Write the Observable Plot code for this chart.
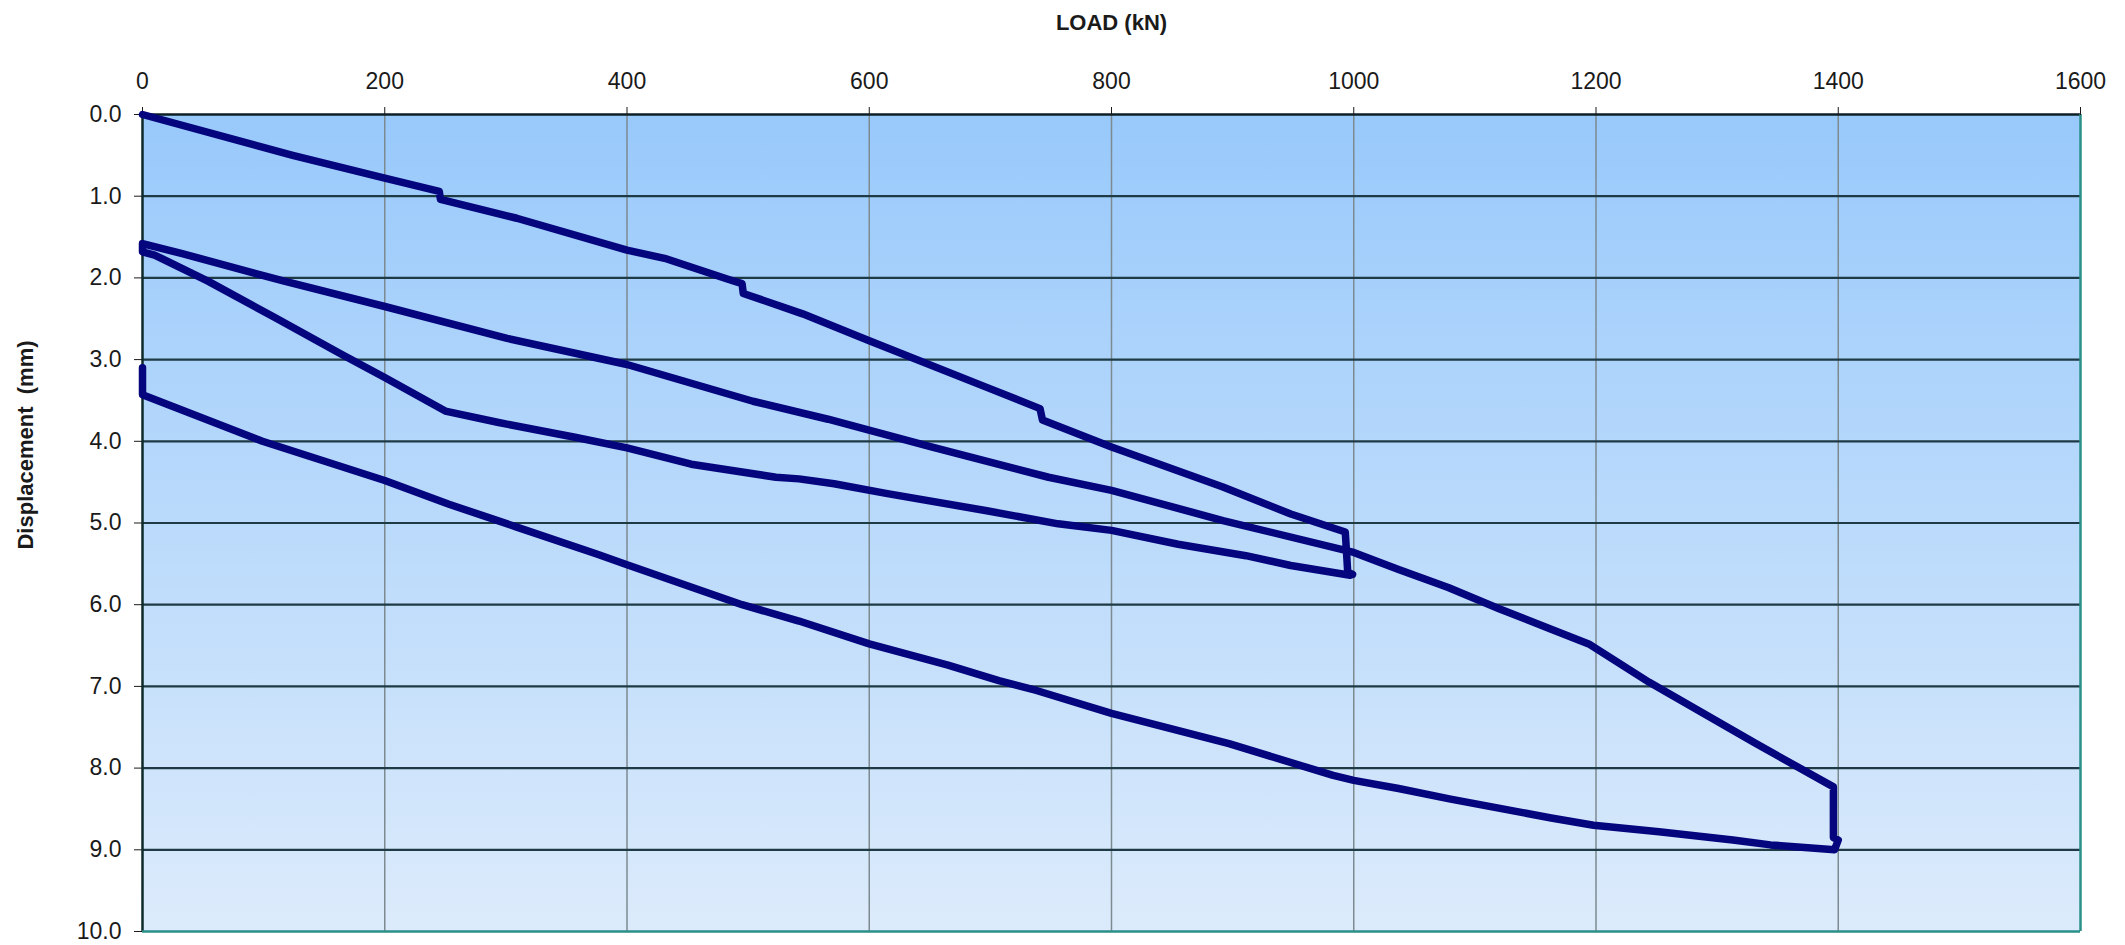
<!DOCTYPE html>
<html>
<head>
<meta charset="utf-8">
<script src="https://cdn.jsdelivr.net/npm/d3@7"></script>
<script src="https://cdn.jsdelivr.net/npm/@observablehq/plot@0.6"></script>
<style>
  html, body { margin: 0; padding: 0; background: #ffffff; }
  #chart svg { display: block; }
</style>
</head>
<body>
<div id="chart"></div>
<script>
// Pile load test: load / unload cycles to 1000 kN and 1400 kN
const load = [
  0, 124, 200, 245, 246, 309, 400, 431, 484, 495, 496, 545, 600, 697, 741, 743, 800, 892, 948, 993,
  994, 995, 999,
  997, 948, 911, 855, 800, 756, 697, 615, 571, 542, 523, 453, 400, 357, 294, 250, 200, 165, 110, 54, 10, 0,
  0, 32, 117, 200, 301, 400, 504, 566, 652, 748, 800, 892, 1000, 1037, 1078, 1120, 1163, 1194, 1244, 1332, 1396,
  1396, 1400, 1397,
  1344, 1313, 1252, 1198, 1163, 1080, 1037, 1000, 983, 897, 800, 738, 707, 665, 600, 542, 495, 400, 375, 309, 253, 200, 99, 0,
  0
];
const displacement = [
  0.00, 0.50, 0.78, 0.94, 1.04, 1.27, 1.66, 1.76, 2.02, 2.07, 2.19, 2.44, 2.77, 3.34, 3.60, 3.74, 4.07, 4.56, 4.89, 5.11,
  5.35, 5.60, 5.63,
  5.64, 5.52, 5.40, 5.26, 5.09, 5.01, 4.85, 4.64, 4.52, 4.46, 4.44, 4.28, 4.08, 3.95, 3.77, 3.63, 3.22, 2.94, 2.49, 2.04, 1.72, 1.68,
  1.58, 1.70, 2.04, 2.35, 2.74, 3.06, 3.51, 3.73, 4.07, 4.44, 4.60, 4.97, 5.36, 5.57, 5.79, 6.05, 6.30, 6.48, 6.95, 7.70, 8.23,
  8.85, 8.88, 9.00,
  8.94, 8.88, 8.78, 8.70, 8.61, 8.38, 8.25, 8.15, 8.09, 7.70, 7.33, 7.05, 6.93, 6.74, 6.48, 6.20, 6.00, 5.51, 5.38, 5.05, 4.77, 4.48, 4.00, 3.43,
  3.10
];
const loadTicks = [0, 200, 400, 600, 800, 1000, 1200, 1400, 1600];
const dispTicks = [0, 1, 2, 3, 4, 5, 6, 7, 8, 9, 10];

const xTitle = "LOAD (kN)";
const yTitle = "Displacement  (mm)";

// plot-area background: vertical blue gradient
function gradientBackground(index, scales, values, dims) {
  const g = d3.create("svg:g");
  const grad = g.append("defs").append("linearGradient")
    .attr("id", "plot-bg").attr("x1", 0).attr("y1", 0).attr("x2", 0).attr("y2", 1);
  grad.append("stop").attr("offset", "0%").attr("stop-color", "#98c9fb");
  grad.append("stop").attr("offset", "100%").attr("stop-color", "#dcebfb");
  g.append("rect")
    .attr("x", dims.marginLeft)
    .attr("y", dims.marginTop)
    .attr("width", dims.width - dims.marginLeft - dims.marginRight)
    .attr("height", dims.height - dims.marginTop - dims.marginBottom)
    .attr("fill", "url(#plot-bg)");
  return g.node();
}

const chart = Plot.plot({
  width: 2125,
  height: 945,
  marginTop: 114,
  marginRight: 45,
  marginBottom: 14,
  marginLeft: 142,
  style: { fontFamily: "'Liberation Sans', Arial, sans-serif", background: "#ffffff", color: "#1a1a1a" },
  x: { domain: [0, 1600] },
  y: { domain: [0, 10], reverse: true },
  marks: [
    gradientBackground,
    // vertical grid (grey) and horizontal grid (dark)
    Plot.ruleX(loadTicks.slice(1, -1), { stroke: "#7d8a90", strokeWidth: 1.5 }),
    Plot.ruleY(dispTicks.slice(1, -1), { stroke: "#1e3a45", strokeWidth: 2.2 }),
    // plot frame
    Plot.ruleY([0], { stroke: "#0d1f24", strokeWidth: 2.5 }),
    Plot.ruleX([0], { stroke: "#0d2a2a", strokeWidth: 2.5 }),
    Plot.ruleY([10], { stroke: "#2a8f88", strokeWidth: 2.5 }),
    Plot.ruleX([1600], { stroke: "#2a8f88", strokeWidth: 2.5 }),
    Plot.axisX({
      anchor: "top", ticks: loadTicks, tickSize: 8, tickPadding: 18,
      tickFormat: d => String(d), label: null, fontSize: 23, stroke: "#1a1a1a"
    }),
    Plot.axisY({
      anchor: "left", ticks: dispTicks, tickSize: 8, tickPadding: 13,
      tickFormat: d => d.toFixed(1), label: null, fontSize: 23, stroke: "#1a1a1a"
    }),
    // load–displacement curve
    Plot.line({ length: load.length }, {
      x: load, y: displacement,
      stroke: "#05057e", strokeWidth: 7.5, strokeLinejoin: "round", strokeLinecap: "round"
    }),
    // axis titles
    Plot.text([xTitle], {
      frameAnchor: "top", dy: -92, text: d => d,
      fontSize: 22, fontWeight: "bold", fill: "#1a1a1a", lineAnchor: "middle"
    }),
    Plot.text([yTitle], {
      frameAnchor: "left", dx: -117, dy: -78, rotate: -90, text: d => d,
      textAnchor: "middle", fontSize: 22, fontWeight: "bold", fill: "#1a1a1a", lineAnchor: "middle"
    })
  ]
});

document.getElementById("chart").appendChild(chart);
</script>
</body>
</html>
